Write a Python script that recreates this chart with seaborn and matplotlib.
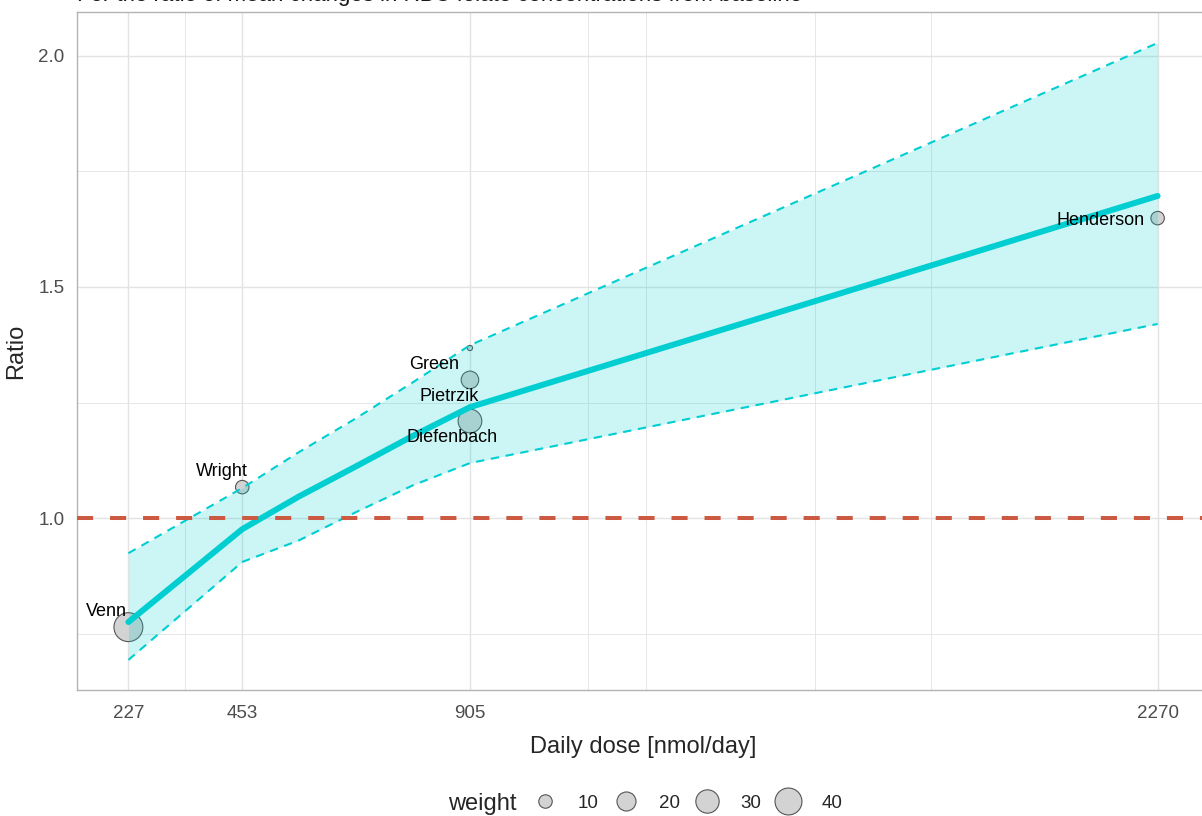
import matplotlib
matplotlib.use("Agg")
import matplotlib.pyplot as plt
from matplotlib.lines import Line2D
import seaborn as sns
import pandas as pd
import numpy as np

# --- dati ---
curve_dose = [227, 453, 566, 679, 792, 905, 2270]
curve_ratio = [0.775, 0.976, 1.047, 1.112, 1.178, 1.240, 1.697]
curve_lower = [0.693, 0.905, 0.952, 1.013, 1.071, 1.119, 1.420]
curve_upper = [0.924, 1.065, 1.143, 1.216, 1.294, 1.374, 2.028]

study = ["Venn", "Wright", "Green", "Pietrzik", "Diefenbach", "Henderson"]
study_dose = [227, 453, 905, 905, 905, 2270]
study_ratio = [0.764, 1.067, 1.368, 1.299, 1.210, 1.649]
study_weight = [46, 10, 1.5, 17, 31, 10]

x_ticks = [227, 453, 905, 2270]
x_minor = [340, 1140, 1254, 1589, 1821]
y_ticks = [1.0, 1.5, 2.0]
y_minor = [0.75, 1.25, 1.75]
legend_weights = [10, 20, 30, 40]

curve = pd.DataFrame({"dose": curve_dose, "ratio": curve_ratio,
                      "lower": curve_lower, "upper": curve_upper})
studies = pd.DataFrame({"study": study, "dose": study_dose,
                        "ratio": study_ratio, "weight": study_weight})

sns.set_theme(style="white")
plt.rcParams["font.family"] = ["Liberation Sans", "DejaVu Sans"]

cyan = "#00CED1"
grid_col = "#E3E3E3"
scale = 9.4  # area in pt^2 per unit of weight

fig = plt.figure(figsize=(12.02, 8.16), dpi=100)
ax = fig.add_axes([77 / 1202, 1 - 690 / 816, 1132 / 1202, 678 / 816])

# punti degli studi (sotto la banda)
sns.scatterplot(data=studies, x="dose", y="ratio", size="weight",
                sizes=(0, 50 * scale), size_norm=(0, 50), color="#D3D3D3",
                edgecolor="#555555", linewidth=0.8, legend=False, ax=ax, zorder=2)

# banda di confidenza e curva
ax.fill_between(curve["dose"], curve["lower"], curve["upper"],
                color=cyan, alpha=0.2, linewidth=0, zorder=3)
sns.lineplot(data=curve, x="dose", y="lower", color=cyan, linewidth=1.5,
             ax=ax, zorder=4).lines[-1].set_dashes((4, 3.2))
sns.lineplot(data=curve, x="dose", y="upper", color=cyan, linewidth=1.5,
             ax=ax, zorder=4).lines[-1].set_dashes((4, 3.2))
sns.lineplot(data=curve, x="dose", y="ratio", color=cyan, linewidth=4.3,
             ax=ax, zorder=5)

ax.axhline(1.0, color="#CC5A43", linewidth=2.9, dashes=(4, 4.2), zorder=6)

# etichette degli studi
offsets = {"Venn": (-16, 11), "Wright": (-15, 11), "Green": (-26, -12),
           "Pietrzik": (-15, -12), "Diefenbach": (-13, -12), "Henderson": (-41, -2)}
for _, r in studies.iterrows():
    ax.annotate(r["study"], (r["dose"], r["ratio"]), xytext=offsets[r["study"]],
                textcoords="offset points", ha="center", va="center",
                fontsize=13, color="black", zorder=7)

ax.set_xlim(125, 2372)
ax.set_ylim(0.628, 2.095)
ax.set_xticks(x_ticks)
ax.set_xticks(x_minor, minor=True)
ax.set_yticks(y_ticks)
ax.set_yticks(y_minor, minor=True)
ax.set_yticklabels([f"{v:.1f}" for v in y_ticks])
ax.grid(True, which="major", color=grid_col, linewidth=1.0, zorder=0)
ax.grid(True, which="minor", color=grid_col, linewidth=0.6, zorder=0)
ax.set_axisbelow(True)
ax.tick_params(axis="both", which="major", length=4, color="#B3B3B3",
               labelsize=13.5, labelcolor="#4D4D4D", width=0.8)
ax.tick_params(axis="x", which="major", pad=7)
ax.tick_params(axis="y", which="major", pad=5)
ax.tick_params(axis="both", which="minor", length=0)
for s in ax.spines.values():
    s.set_color("#B3B3B3")
    s.set_linewidth(1.0)

ax.set_xlabel("Daily dose [nmol/day]", fontsize=17, labelpad=10)
ax.set_ylabel("Ratio", fontsize=17, labelpad=8)

# sottotitolo tagliato in alto
fig.text(77 / 1202, 1 - 1 / 816,
         "For the ratio of mean changes in RBC folate concentrations from baseline",
         fontsize=16, va="baseline", ha="left", color="#1A1A1A")

# legenda delle dimensioni
handles = [Line2D([], [], marker="o", linestyle="", markersize=np.sqrt(w * scale),
                  markerfacecolor="#D3D3D3", markeredgecolor="#555555",
                  markeredgewidth=0.8) for w in legend_weights]
fig.text(482 / 1202, 1 - 804 / 816, "weight", fontsize=17, ha="center", va="center")
fig.legend(handles, [str(w) for w in legend_weights], ncol=4, frameon=False,
           loc="center", bbox_to_anchor=(688 / 1202, 1 - 803 / 816),
           fontsize=13.5, handletextpad=1.15, columnspacing=0.86, handlelength=1.2)

fig.savefig("out.png", dpi=100)
